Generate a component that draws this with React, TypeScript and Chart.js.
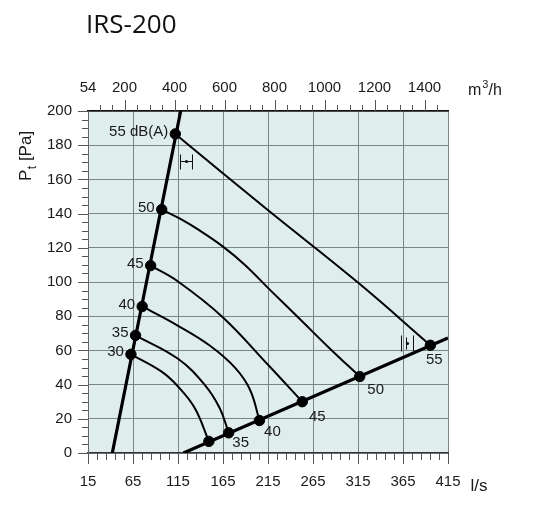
import React, { useEffect, useRef } from "react";
import { Chart, registerables } from "chart.js";

Chart.register(...registerables);

// ---- axis ticks ----
const X_TICKS = [15, 65, 115, 165, 215, 265, 315, 365, 415];
const Y_TICKS = [0, 20, 40, 60, 80, 100, 120, 140, 160, 180, 200];
const TOP_TICKS = [54, 200, 400, 600, 800, 1000, 1200, 1400];

// ---- data (x = l/s, y = Pa) ----
const LEFT_LINE = [
  { x: 42, y: 0 },
  { x: 118, y: 200 },
];
const RIGHT_LINE = [
  { x: 121, y: 0 },
  { x: 415, y: 67.3 },
];
const LEFT_DOTS = [
  { x: 62.7, y: 57.7 },
  { x: 67.8, y: 68.8 },
  { x: 75.2, y: 85.7 },
  { x: 84.6, y: 109.6 },
  { x: 96.9, y: 142.4 },
  { x: 112.0, y: 186.6 },
];
const RIGHT_DOTS = [
  { x: 149.3, y: 6.8 },
  { x: 171.3, y: 11.8 },
  { x: 205.5, y: 19.0 },
  { x: 253.1, y: 30.0 },
  { x: 316.9, y: 44.7 },
  { x: 395.4, y: 63.0 },
];
const LEFT_LABELS = ["30", "35", "40", "45", "50", "55 dB(A)"];
const RIGHT_LABELS = ["", "35", "40", "45", "50", "55"];

const CURVE_30 = [
  { x: 62.7, y: 57.7 }, { x: 96.4, y: 47.7 }, { x: 115, y: 38.9 },
  { x: 133.6, y: 26.3 }, { x: 149.3, y: 6.8 },
];
const CURVE_35 = [
  { x: 67.8, y: 68.8 }, { x: 115, y: 55.1 }, { x: 144.7, y: 39.9 },
  { x: 161.3, y: 26.3 }, { x: 171.3, y: 11.8 },
];
const CURVE_40 = [
  { x: 75.2, y: 85.7 }, { x: 115, y: 74.4 }, { x: 150.6, y: 62.7 },
  { x: 178.3, y: 49.9 }, { x: 195, y: 37 }, { x: 205.5, y: 19.0 },
];
const CURVE_45 = [
  { x: 84.6, y: 109.6 }, { x: 115, y: 100.3 }, { x: 165, y: 79.3 },
  { x: 215, y: 51.6 }, { x: 253.1, y: 30.0 },
];
const CURVE_50 = [
  { x: 96.9, y: 142.4 }, { x: 117.2, y: 137 }, { x: 139.4, y: 130 },
  { x: 165, y: 120.7 }, { x: 189.4, y: 110 }, { x: 217.2, y: 95.4 },
  { x: 250.6, y: 78.2 }, { x: 283.9, y: 61 }, { x: 316.9, y: 44.7 },
];
const CURVE_55 = [
  { x: 112.0, y: 186.6 }, { x: 211.7, y: 143.4 }, { x: 315.3, y: 99.5 },
  { x: 395.4, y: 63.0 },
];
// width markers (anchor in data units)
const MARK_H = { x: 123.9, y: 170.5 };
const MARK_V = { x: 368.9, y: 64.5 };

const FONT = "Arial, 'Liberation Sans', sans-serif";
const GRID = "#7a8686";
const BG = "#e0eded";
const TXT = "#1a1a1a";

const RIGHT_LABEL_OFFSETS = [
  [0, 0], [12, 10], [13, 11], [15, 15], [16, 13], [4, 14.5],
];

const decorPlugin = {
  id: "decor",
  beforeDraw(chart: any) {
    const { ctx, chartArea: a } = chart;
    ctx.save();
    ctx.fillStyle = BG;
    ctx.fillRect(a.left, a.top, a.right - a.left, a.bottom - a.top);
    ctx.restore();
  },
  afterDraw(chart: any) {
    const { ctx, chartArea: a, scales } = chart;
    const sx = scales.x, sy = scales.y, st = scales.x2;
    ctx.save();
    // tick marks
    ctx.strokeStyle = "#555";
    ctx.lineWidth = 1;
    ctx.beginPath();
    for (let v = 15; v <= 415; v += 10) {
      const p = Math.round(sx.getPixelForValue(v)) + 0.5;
      const major = (v - 15) % 50 === 0;
      ctx.moveTo(p, a.bottom);
      ctx.lineTo(p, a.bottom + (major ? 11 : 7));
    }
    for (let v = 0; v <= 200; v += 5) {
      const p = Math.round(sy.getPixelForValue(v)) + 0.5;
      const major = v % 20 === 0;
      ctx.moveTo(a.left, p);
      ctx.lineTo(a.left - (major ? 10 : 6), p);
    }
    for (let v = 100; v <= 1450; v += 50) {
      const p = Math.round(st.getPixelForValue(v)) + 0.5;
      const major = v % 200 === 0;
      ctx.moveTo(p, a.top);
      ctx.lineTo(p, a.top - (major ? 11 : 6));
    }
    ctx.stroke();

    // title
    ctx.fillStyle = "#111";
    ctx.textBaseline = "alphabetic";
    ctx.textAlign = "left";
    ctx.font = "26px 'Open Sans'";
    ctx.fillText("IRS-200", 86, 33);

    // y title
    ctx.fillStyle = TXT;
    ctx.save();
    ctx.translate(31, 181);
    ctx.rotate(-Math.PI / 2);
    ctx.font = `17px ${FONT}`;
    ctx.fillText("P", 0, 0);
    let w = ctx.measureText("P").width;
    ctx.font = `12px ${FONT}`;
    ctx.fillText("t", w + 0.5, 5);
    w += ctx.measureText("t").width + 0.5;
    ctx.font = `17px ${FONT}`;
    ctx.fillText(" [Pa]", w, 0);
    ctx.restore();

    // units
    ctx.font = `16px ${FONT}`;
    ctx.fillText("m", 468, 95);
    const mw = ctx.measureText("m").width;
    ctx.font = `11px ${FONT}`;
    ctx.fillText("3", 468 + mw + 1, 87.5);
    ctx.font = `16px ${FONT}`;
    ctx.fillText("/h", 488.5, 95);
    ctx.font = `17px ${FONT}`;
    ctx.fillText("l/s", 470.5, 491);

    // point labels
    ctx.font = `15px ${FONT}`;
    ctx.textBaseline = "middle";
    ctx.textAlign = "right";
    LEFT_DOTS.forEach((d, i) => {
      const px = sx.getPixelForValue(d.x);
      const py = sy.getPixelForValue(d.y);
      ctx.fillText(LEFT_LABELS[i], px - 7, py - 2);
    });
    ctx.textAlign = "center";
    RIGHT_DOTS.forEach((d, i) => {
      if (!RIGHT_LABELS[i]) return;
      const px = sx.getPixelForValue(d.x);
      const py = sy.getPixelForValue(d.y);
      const [dx, dy] = RIGHT_LABEL_OFFSETS[i];
      ctx.fillText(RIGHT_LABELS[i], px + dx, py + dy);
    });

    // width markers
    ctx.strokeStyle = "#111";
    ctx.fillStyle = "#111";
    ctx.lineWidth = 1;
    {
      const cx = Math.round(sx.getPixelForValue(MARK_H.x)) + 0.5;
      const cy = Math.round(sy.getPixelForValue(MARK_H.y)) + 0.5;
      ctx.beginPath();
      ctx.moveTo(cx - 6, cy - 7); ctx.lineTo(cx - 6, cy + 8);
      ctx.moveTo(cx + 6, cy - 7); ctx.lineTo(cx + 6, cy + 8);
      ctx.moveTo(cx - 6, cy); ctx.lineTo(cx + 6, cy);
      ctx.stroke();
      ctx.beginPath(); ctx.arc(cx, cy, 1.6, 0, Math.PI * 2); ctx.fill();
    }
    {
      const cx = Math.round(sx.getPixelForValue(MARK_V.x)) + 0.5;
      const cy = Math.round(sy.getPixelForValue(MARK_V.y)) + 0.5;
      ctx.beginPath();
      ctx.moveTo(cx - 6, cy - 8); ctx.lineTo(cx - 6, cy + 8);
      ctx.moveTo(cx + 6, cy - 8); ctx.lineTo(cx + 6, cy + 8);
      ctx.moveTo(cx - 1, cy - 6); ctx.lineTo(cx - 1, cy + 6);
      ctx.stroke();
      ctx.beginPath(); ctx.arc(cx, cy, 1.6, 0, Math.PI * 2); ctx.fill();
    }
    ctx.restore();
  },
};

function curveDs(data: any[]) {
  return {
    type: "line",
    data,
    borderColor: "#000",
    borderWidth: 2,
    pointRadius: 0,
    fill: false,
    tension: 0.4,
    xAxisID: "x",
    yAxisID: "y",
  };
}

export default function App() {
  const ref = useRef<HTMLCanvasElement | null>(null);
  useEffect(() => {
    if (!ref.current) return;
    const tickFont = { family: FONT, size: 15 };
    const chart = new Chart(ref.current, {
      type: "scatter",
      data: {
        datasets: [
          curveDs(CURVE_30), curveDs(CURVE_35), curveDs(CURVE_40),
          curveDs(CURVE_45), curveDs(CURVE_50), curveDs(CURVE_55),
          { type: "line", data: LEFT_LINE, borderColor: "#000", borderWidth: 3.2, pointRadius: 0, xAxisID: "x", yAxisID: "y" },
          { type: "line", data: RIGHT_LINE, borderColor: "#000", borderWidth: 3.2, pointRadius: 0, xAxisID: "x", yAxisID: "y" },
          { type: "scatter", data: LEFT_DOTS, pointRadius: 5.2, backgroundColor: "#000", borderColor: "#000", xAxisID: "x", yAxisID: "y" },
          { type: "scatter", data: RIGHT_DOTS, pointRadius: 5.2, backgroundColor: "#000", borderColor: "#000", xAxisID: "x", yAxisID: "y" },
        ] as any,
      },
      options: {
        responsive: false,
        animation: false,
        events: [],
        layout: { padding: { left: 0, right: 85, top: 0, bottom: 0 } },
        plugins: { legend: { display: false }, tooltip: { enabled: false } },
        scales: {
          x: {
            type: "linear",
            position: "bottom",
            min: 15,
            max: 415,
            afterBuildTicks: (s: any) => { s.ticks = X_TICKS.map((v) => ({ value: v })); },
            afterFit: (s: any) => { s.height = 60; },
            ticks: { font: tickFont, color: TXT, padding: 20, maxRotation: 0, autoSkip: false, callback: (v: any) => String(v) },
            grid: { color: GRID, lineWidth: 1, drawTicks: false },
            border: { display: true, color: "#333", width: 1.2 },
          },
          x2: {
            type: "linear",
            position: "top",
            min: 54,
            max: 1494,
            afterBuildTicks: (s: any) => { s.ticks = TOP_TICKS.map((v) => ({ value: v })); },
            afterFit: (s: any) => { s.height = 111; },
            ticks: { font: tickFont, color: TXT, padding: 14, maxRotation: 0, autoSkip: false, callback: (v: any) => String(v) },
            grid: { display: false, drawTicks: false },
            border: { display: true, color: "#111", width: 1.5 },
          },
          y: {
            type: "linear",
            position: "left",
            min: 0,
            max: 200,
            afterBuildTicks: (s: any) => { s.ticks = Y_TICKS.map((v) => ({ value: v })); },
            afterFit: (s: any) => { s.width = 88; },
            ticks: { font: tickFont, color: TXT, padding: 16, callback: (v: any) => String(v) },
            grid: { color: GRID, lineWidth: 1, drawTicks: false },
            border: { display: true, color: "#666", width: 1 },
          },
        },
      } as any,
      plugins: [decorPlugin],
    });
    return () => chart.destroy();
  }, []);
  return (
    <div style={{ position: "fixed", left: 0, top: 0, width: 533, height: 513, background: "#fff" }}>
      <canvas ref={ref} width={533} height={513} style={{ display: "block", width: 533, height: 513 }} />
    </div>
  );
}
